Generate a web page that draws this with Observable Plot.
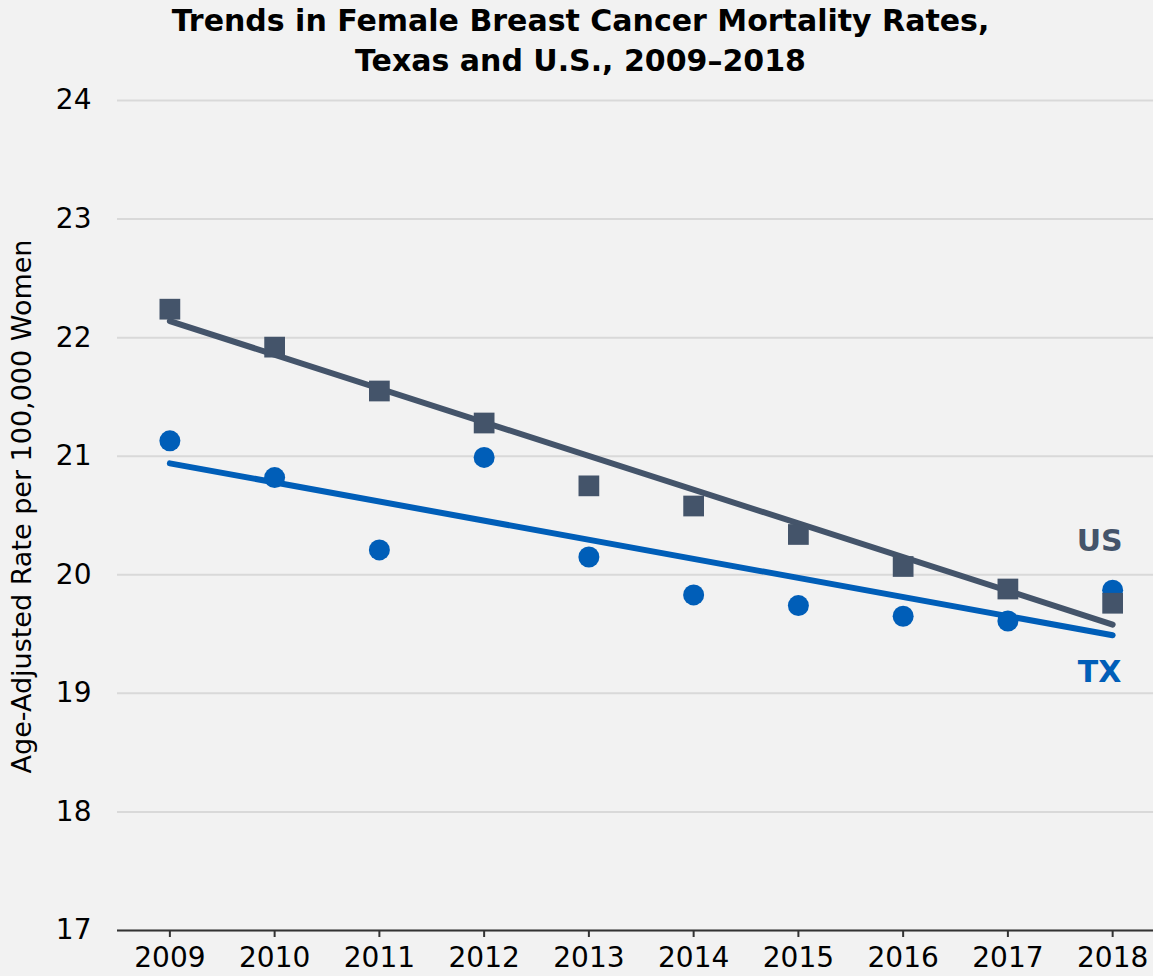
<!DOCTYPE html>
<html>
<head>
<meta charset="utf-8">
<script src="https://cdn.jsdelivr.net/npm/d3@7"></script>
<script src="https://cdn.jsdelivr.net/npm/@observablehq/plot@0.6"></script>
<style>
  html, body { margin: 0; padding: 0; background: #f2f2f2; }
  #title { height: 80px; box-sizing: border-box; text-align: center; font-family: "DejaVu Sans", Verdana, sans-serif; font-weight: bold; font-size: 30px; line-height: 40px; color: #000; padding-left: 8px; padding-top: 1px; }
  #chart svg { display: block; }
</style>
</head>
<body>
<div id="title">Trends in Female Breast Cancer Mortality Rates,<br>Texas and U.S., 2009–2018</div>
<div id="chart"></div>
<script>
const years = [2009, 2010, 2011, 2012, 2013, 2014, 2015, 2016, 2017, 2018];
const usRates = [22.24, 21.92, 21.55, 21.28, 20.75, 20.58, 20.34, 20.07, 19.88, 19.76];
const txRates = [21.13, 20.82, 20.21, 20.99, 20.15, 19.83, 19.74, 19.65, 19.61, 19.87];
const trendYears = [2009, 2018];
const usTrend = [22.14, 19.58];
const txTrend = [20.94, 19.49];
const yTicks = [17, 18, 19, 20, 21, 22, 23, 24];
const seriesLabels = [
  {name: "US", year: 2018, value: 20.28},
  {name: "TX", year: 2018, value: 19.18}
];

const usColor = "#44546a";
const txColor = "#005eb8";

const us = years.map((y, i) => ({year: y, value: usRates[i]}));
const tx = years.map((y, i) => ({year: y, value: txRates[i]}));
const usT = trendYears.map((y, i) => ({year: y, value: usTrend[i]}));
const txT = trendYears.map((y, i) => ({year: y, value: txTrend[i]}));

const chart = Plot.plot({
  width: 1153,
  height: 896,
  marginTop: 20,
  marginBottom: 46,
  marginLeft: 117,
  marginRight: 0,
  style: {background: "#f2f2f2", fontFamily: "DejaVu Sans, Verdana, sans-serif", fontSize: "28px", color: "#000", overflow: "visible"},
  x: {domain: [2008.5, 2018.39]},
  y: {domain: [17, 24]},
  marks: [
    Plot.gridY(yTicks, {stroke: "#d9d9d9", strokeOpacity: 1, strokeWidth: 2}),
    Plot.axisY(yTicks, {tickSize: 0, tickPadding: 26, fontSize: 28, tickFormat: d => String(d), label: null}),
    Plot.text(["Age-Adjusted Rate per 100,000 Women"], {frameAnchor: "left", textAnchor: "middle", rotate: -90, dx: -95, dy: -9, fontSize: 27, fill: "#000"}),
    Plot.ruleY([17], {stroke: "#333", strokeWidth: 2}),
    Plot.axisX(years, {tickSize: 7, tickPadding: 10, tickFormat: d => String(d), fontSize: 28, label: null, stroke: "#333", strokeWidth: 2}),
    Plot.line(txT, {x: "year", y: "value", stroke: txColor, strokeWidth: 6, strokeLinecap: "round"}),
    Plot.line(usT, {x: "year", y: "value", stroke: usColor, strokeWidth: 6, strokeLinecap: "round"}),
    Plot.dot(tx, {x: "year", y: "value", r: 10.5, fill: txColor, symbol: "circle"}),
    Plot.dot(us, {x: "year", y: "value", r: 11.7, fill: usColor, symbol: "square"}),
    Plot.text(seriesLabels, {x: "year", y: "value", text: "name", dx: -13, fontSize: 30, fontWeight: "bold", fill: d => d.name === "US" ? usColor : txColor})
  ]
});
document.getElementById("chart").appendChild(chart);
</script>
</body>
</html>
